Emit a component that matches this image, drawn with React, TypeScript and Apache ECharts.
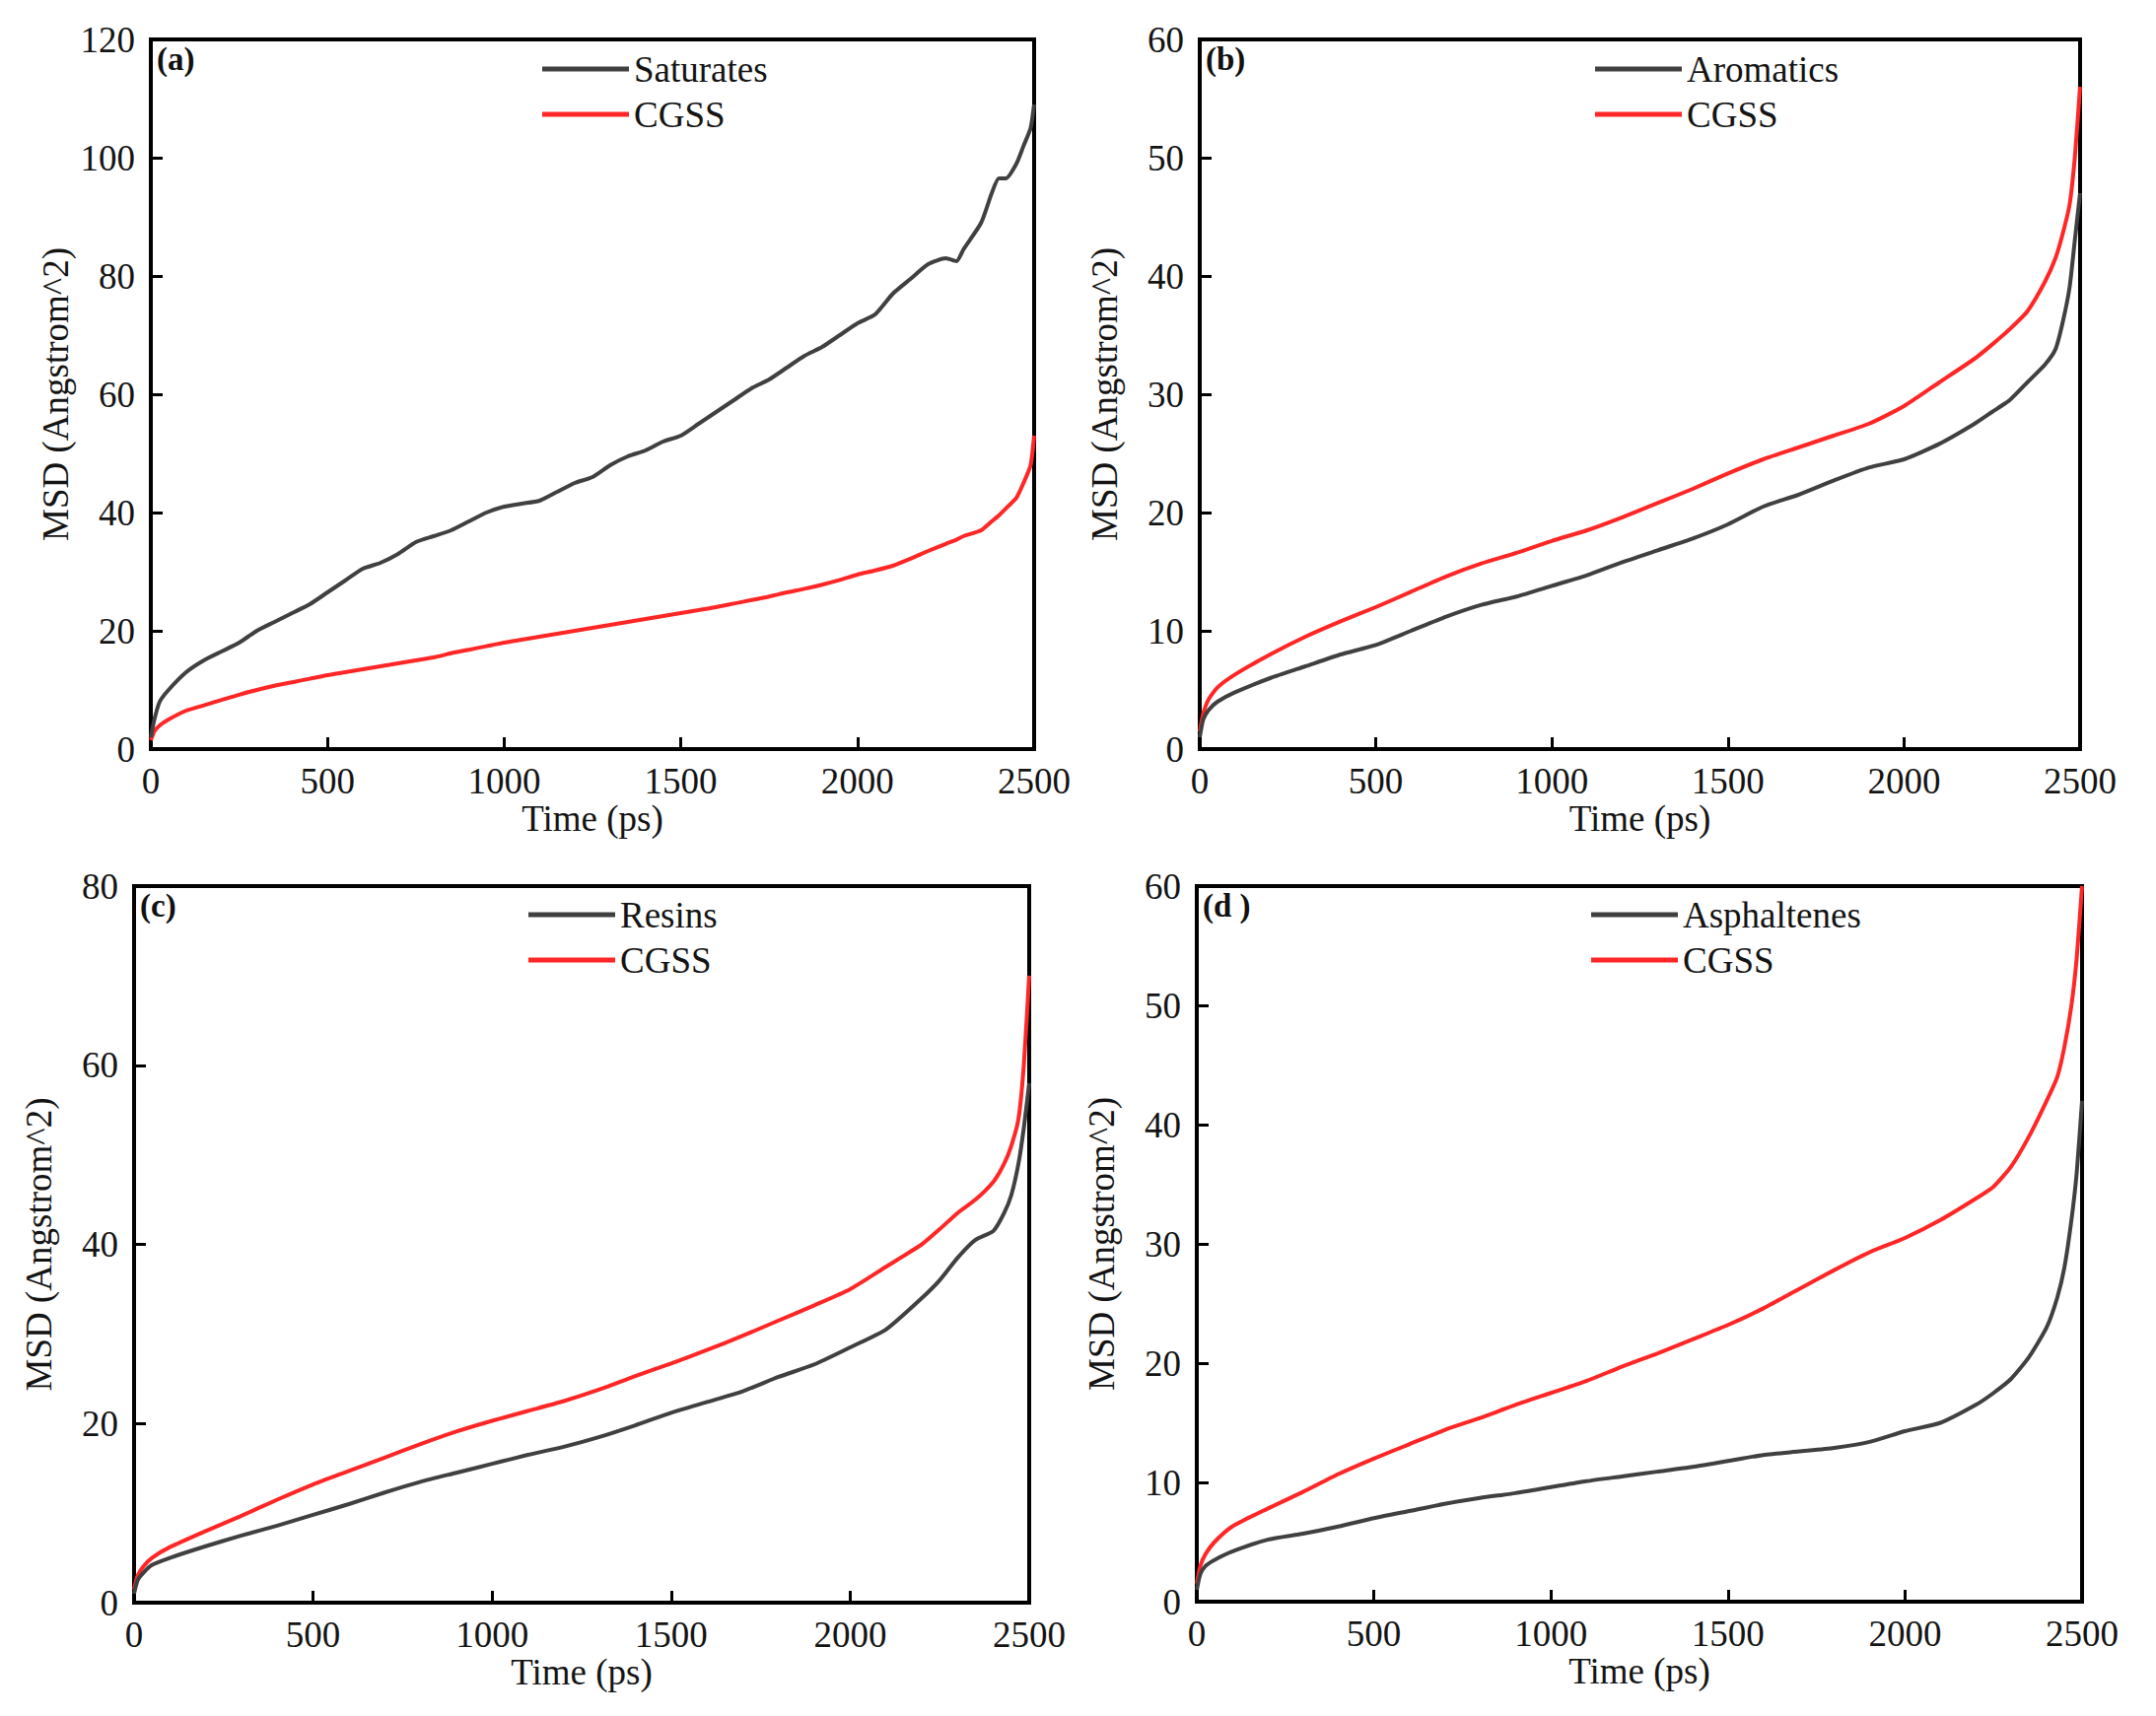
import React, { useEffect, useRef } from "react";
import * as echarts from "echarts";

// ---------- data (time in ps, MSD in Angstrom^2) ----------
const timeTicks = [0, 500, 1000, 1500, 2000, 2500];

const saturates: number[][] = [
  [0, 2], [10, 5], [25, 8], [50, 10], [100, 13], [150, 15], [200, 16.5], [250, 18], [300, 20], [350, 21.5],
  [400, 23], [450, 24.5], [500, 26.5], [550, 28.5], [600, 30.5], [650, 31.5], [700, 33], [750, 35], [800, 36],
  [850, 37], [900, 38.5], [950, 40], [1000, 41], [1050, 41.5], [1100, 42], [1150, 43.5], [1200, 45], [1250, 46],
  [1300, 48], [1350, 49.5], [1400, 50.5], [1450, 52], [1500, 53], [1550, 55], [1600, 57], [1650, 59], [1700, 61],
  [1750, 62.5], [1800, 64.5], [1850, 66.5], [1900, 68], [1950, 70], [2000, 72], [2050, 73.5], [2100, 77],
  [2150, 79.5], [2200, 82], [2250, 83], [2280, 82.5], [2300, 84.5], [2350, 89], [2380, 94], [2400, 96.5],
  [2420, 96.5], [2450, 99], [2470, 102], [2490, 105], [2500, 109],
];
const cgssA: number[][] = [
  [0, 1.5], [10, 3], [25, 4], [50, 5], [100, 6.5], [150, 7.4], [200, 8.3], [250, 9.2], [300, 10], [350, 10.7],
  [400, 11.3], [450, 11.9], [500, 12.5], [550, 13], [600, 13.5], [650, 14], [700, 14.5], [750, 15], [800, 15.5],
  [850, 16.2], [900, 16.8], [950, 17.4], [1000, 18], [1050, 18.5], [1100, 19], [1150, 19.5], [1200, 20],
  [1250, 20.5], [1300, 21], [1350, 21.5], [1400, 22], [1450, 22.5], [1500, 23], [1550, 23.5], [1600, 24],
  [1650, 24.6], [1700, 25.2], [1750, 25.8], [1800, 26.5], [1850, 27.1], [1900, 27.8], [1950, 28.6], [2000, 29.5],
  [2050, 30.2], [2100, 31], [2150, 32.2], [2200, 33.5], [2250, 34.7], [2280, 35.4], [2300, 36], [2350, 37],
  [2380, 38.5], [2400, 39.5], [2420, 40.7], [2450, 42.5], [2470, 45], [2490, 48], [2500, 53],
];

const timeCommon = [
  0, 10, 25, 50, 100, 200, 300, 400, 500, 600, 700, 800, 900, 1000, 1100, 1200, 1300, 1400, 1500, 1600, 1700,
  1800, 1900, 2000, 2100, 2200, 2250, 2300, 2350, 2400, 2430, 2450, 2470, 2485, 2500,
];
const aromatics = [
  1, 2.5, 3.3, 4, 4.8, 6, 7, 8, 8.8, 10, 11.2, 12.2, 12.9, 13.8, 14.7, 15.8, 16.8, 17.8, 19, 20.5, 21.5,
  22.7, 23.8, 24.5, 25.8, 27.5, 28.5, 29.5, 31, 32.5, 33.8, 36, 39, 43, 47,
];
const cgssB = [
  1.5, 3, 4.2, 5.2, 6.3, 8, 9.5, 10.8, 12, 13.3, 14.6, 15.7, 16.6, 17.6, 18.5, 19.6, 20.8, 22, 23.3, 24.5, 25.5,
  26.5, 27.5, 29, 31, 33, 34.2, 35.5, 37, 39.5, 41.5, 43.5, 46, 50, 56,
];
const resins = [
  1, 2.5, 3.3, 4.2, 5, 6.3, 7.5, 8.6, 9.8, 11, 12.3, 13.5, 14.5, 15.5, 16.5, 17.4, 18.5, 19.8, 21.2, 22.4, 23.6,
  25.2, 26.6, 28.5, 30.5, 34, 36, 38.5, 40.5, 41.5, 43.5, 45.5, 49, 53, 58,
];
const cgssC = [
  1.5, 3, 4, 5, 6.2, 8, 9.7, 11.5, 13.2, 14.7, 16.2, 17.7, 19.1, 20.3, 21.4, 22.5, 23.8, 25.3, 26.7, 28.2, 29.8,
  31.5, 33.2, 35, 37.5, 40, 41.7, 43.5, 45, 47, 49, 51, 54, 60, 70,
];
const asphaltenes = [
  1, 2.3, 3, 3.5, 4.2, 5.2, 5.7, 6.3, 7, 7.6, 8.2, 8.7, 9.1, 9.6, 10.1, 10.5, 10.9, 11.3, 11.8, 12.3, 12.6,
  12.9, 13.4, 14.3, 15, 16.5, 17.5, 18.7, 20.5, 23, 25.5, 28, 32, 36, 42,
];
const cgssD = [
  1.5, 3, 4, 5, 6.3, 7.8, 9.2, 10.7, 12, 13.2, 14.4, 15.4, 16.5, 17.5, 18.5, 19.7, 20.8, 22, 23.2, 24.6, 26.2,
  27.8, 29.3, 30.5, 32, 33.8, 34.8, 36.5, 39, 42, 44, 46.5, 50, 54, 60,
];

const panelLabels = ["(a)", "(b)", "(c)", "(d )"];
const componentNames = ["Saturates", "Aromatics", "Resins", "Asphaltenes"];
const yMax = [120, 60, 80, 60];
const yStep = [20, 10, 20, 10];

const pair = (t: number[], v: number[]) => t.map((x, i) => [x, v[i]]);

const FONT = "Liberation Serif";
const TXT = "#141414";
const GRAY = "#404040";
const RED = "#ff2626";

export default function App() {
  const ref = useRef<HTMLDivElement>(null);
  useEffect(() => {
    document.body.style.margin = "0";
    if (!ref.current) return;
    const chart = echarts.init(ref.current, undefined, { renderer: "svg" });

    const grids = [
      { left: 153, top: 40, width: 896, height: 720 },
      { left: 1217, top: 40, width: 893, height: 720 },
      { left: 136, top: 899, width: 908, height: 727 },
      { left: 1214, top: 899, width: 898, height: 726 },
    ];
    const legendPos = [
      { left: 545, top: 44 },
      { left: 1613, top: 44 },
      { left: 531, top: 902 },
      { left: 1609, top: 902 },
    ];
    const seriesData = [
      [saturates, cgssA],
      [pair(timeCommon, aromatics), pair(timeCommon, cgssB)],
      [pair(timeCommon, resins), pair(timeCommon, cgssC)],
      [pair(timeCommon, asphaltenes), pair(timeCommon, cgssD)],
    ];

    const axisLine = { show: true, lineStyle: { color: "#000", width: 4 } };
    const axisTick = { show: true, inside: true, length: 12, lineStyle: { color: "#000", width: 3 } };
    const label = { fontFamily: FONT, fontSize: 37, color: TXT, formatter: (v: number) => String(v) };

    const option: any = {
      animation: false,
      backgroundColor: "#fff",
      grid: grids.map((g) => ({ ...g, show: true, borderColor: "#000", borderWidth: 4, backgroundColor: "transparent" })),
      xAxis: grids.map((_, i) => ({
        type: "value",
        gridIndex: i,
        min: timeTicks[0],
        max: timeTicks[timeTicks.length - 1],
        interval: 500,
        axisLine,
        axisTick,
        splitLine: { show: false },
        axisLabel: { ...label, margin: 14 },
        name: "Time (ps)",
        nameLocation: "middle",
        nameGap: 50,
        nameTextStyle: { fontFamily: FONT, fontSize: 37, color: TXT },
      })),
      yAxis: grids.map((_, i) => ({
        type: "value",
        gridIndex: i,
        min: 0,
        max: yMax[i],
        interval: yStep[i],
        axisLine,
        axisTick,
        splitLine: { show: false },
        axisLabel: { ...label, margin: 16 },
        name: "MSD (Angstrom^2)",
        nameLocation: "middle",
        nameRotate: 90,
        nameGap: 78,
        nameTextStyle: { fontFamily: FONT, fontSize: 37, color: TXT },
      })),
      legend: grids.map((_, i) => ({
        ...legendPos[i],
        orient: "vertical",
        data: [componentNames[i], "CGSS"],
        icon: "rect",
        itemWidth: 88,
        itemHeight: 5,
        itemGap: 4,
        selectedMode: false,
        textStyle: { fontFamily: FONT, fontSize: 37, color: TXT, lineHeight: 42 },
      })),
      series: grids.flatMap((_, i) => [
        {
          type: "line",
          name: componentNames[i],
          xAxisIndex: i,
          yAxisIndex: i,
          data: seriesData[i][0],
          showSymbol: false,
          symbol: "none",
          smooth: 0.2,
          lineStyle: { color: GRAY, width: 4, join: "round" },
          itemStyle: { color: GRAY },
          z: 3,
        },
        {
          type: "line",
          name: "CGSS",
          xAxisIndex: i,
          yAxisIndex: i,
          data: seriesData[i][1],
          showSymbol: false,
          symbol: "none",
          smooth: 0.2,
          lineStyle: { color: RED, width: 4, join: "round" },
          itemStyle: { color: RED },
          z: 2,
        },
      ]),
      graphic: grids.map((g, i) => ({
        type: "text",
        left: g.left + 6,
        top: g.top + 3,
        style: { text: panelLabels[i], fontFamily: FONT, fontSize: 33, fontWeight: "bold", fill: "#111" },
        z: 10,
      })),
    };
    chart.setOption(option);
    return () => chart.dispose();
  }, []);
  return <div ref={ref} style={{ width: 2187, height: 1741 }} />;
}
